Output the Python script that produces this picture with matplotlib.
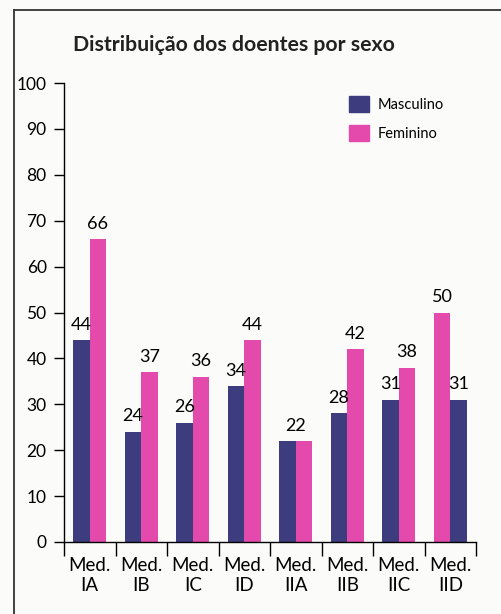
import matplotlib
matplotlib.use("Agg")
import matplotlib.pyplot as plt
from matplotlib.lines import Line2D
from matplotlib.patches import Patch
import numpy as np

plt.rcParams["font.family"] = ["Lato", "DejaVu Sans"]

groups = ["Med.\nIA", "Med.\nIB", "Med.\nIC", "Med.\nID", "Med.\nIIA", "Med.\nIIB", "Med.\nIIC", "Med.\nIID"]
masculino = [44, 24, 26, 34, 22, 28, 31, 31]
feminino = [66, 37, 36, 44, 22, 42, 38, 50]
# in the last group the pink bar comes first
masc_first = [True, True, True, True, True, True, True, False]

NAVY = "#3d3c7e"
PINK = "#e34aab"
W = 0.32

fig = plt.figure(figsize=(5.01, 6.14), dpi=100, facecolor="#fbfbfa")
ax = fig.add_axes([64 / 501, 1 - 542 / 614, (476 - 64) / 501, (542 - 83) / 614])
ax.set_facecolor("none")

centers = np.arange(len(groups)) + 0.5
for c, m, f, mf in zip(centers, masculino, feminino, masc_first):
    xm, xf = (c - W / 2, c + W / 2) if mf else (c + W / 2, c - W / 2)
    ax.bar(xm, m, width=W, color=NAVY)
    ax.bar(xf, f, width=W, color=PINK)
    if m == f:
        ax.text(c, m + 1.6, str(m), ha="center", va="bottom", fontsize=13)
    else:
        ax.text(xm, m + 1.6, str(m), ha="center", va="bottom", fontsize=13)
        ax.text(xf, f + 1.6, str(f), ha="center", va="bottom", fontsize=13)

ax.set_xlim(0, len(groups))
ax.set_ylim(0, 100)
ax.set_yticks(range(0, 101, 10))
ax.tick_params(axis="y", direction="out", length=7.5, width=1, labelsize=12.5, pad=5)
ax.set_xticks(range(len(groups) + 1))
ax.set_xticklabels([])
ax.tick_params(axis="x", which="major", direction="out", length=10, width=1)
ax.set_xticks(centers, minor=True)
ax.set_xticklabels(groups, minor=True, fontsize=13.5, linespacing=1.2)
ax.tick_params(axis="x", which="minor", length=0, pad=11)
for s in ("top", "right"):
    ax.spines[s].set_visible(False)
ax.spines["left"].set_linewidth(1)
ax.spines["bottom"].set_linewidth(1)

ax.legend(handles=[Patch(color=NAVY, label="Masculino"), Patch(color=PINK, label="Feminino")],
          loc="upper left", bbox_to_anchor=(0.66, 1.0), frameon=False, fontsize=10.5,
          handlelength=1.35, handleheight=1.35, handletextpad=0.6, labelspacing=0.85)

fig.text(73 / 501, 1 - 45 / 614, "Distribuição dos doentes por sexo", fontsize=15.3,
         fontweight="bold", va="center", ha="left", color="#222222")

# page frame
fig.add_artist(Line2D([14 / 501, 14 / 501], [0, 1 - 10 / 614], transform=fig.transFigure, color="#333333", lw=1.3))
fig.add_artist(Line2D([14 / 501, 1], [1 - 10 / 614, 1 - 10 / 614], transform=fig.transFigure, color="#333333", lw=1.3))

fig.savefig("out.png", dpi=100, facecolor=fig.get_facecolor())
